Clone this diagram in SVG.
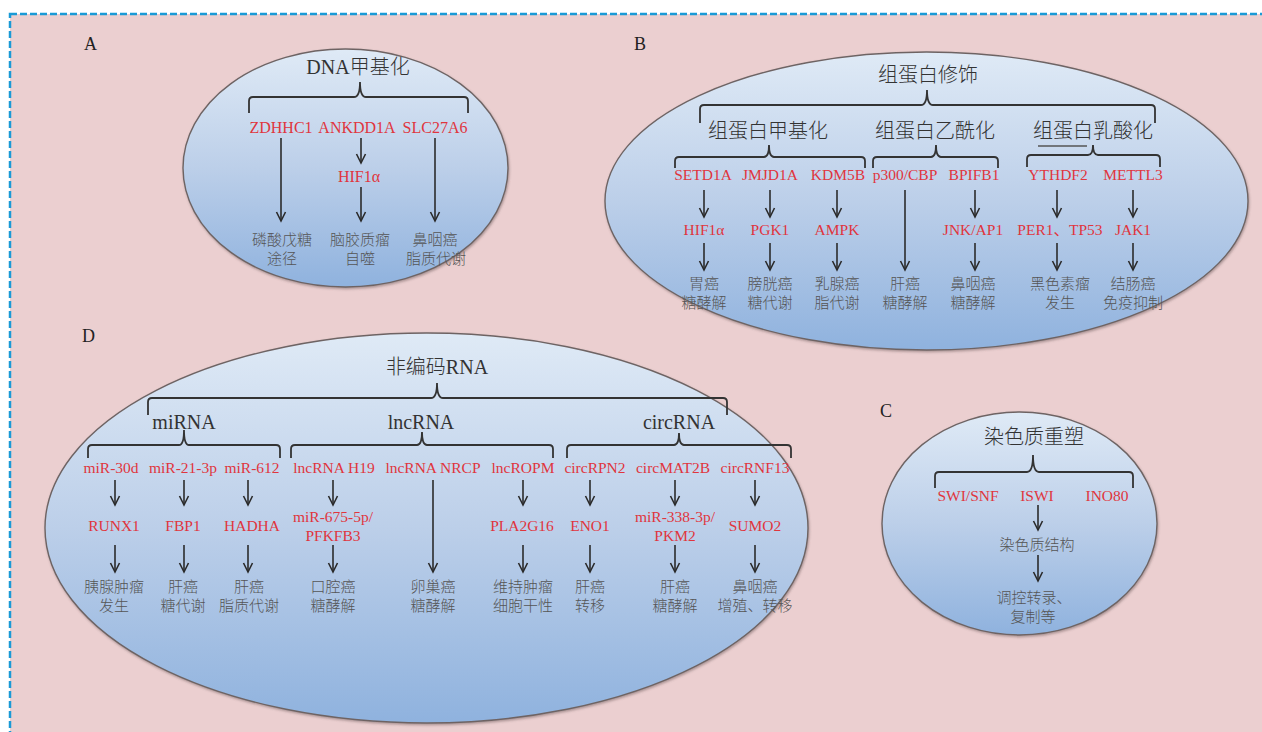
<svg xmlns="http://www.w3.org/2000/svg" width="1262" height="732" viewBox="0 0 1262 732">
<defs>
<linearGradient id="eg" x1="0" y1="0" x2="0" y2="1">
<stop offset="0" stop-color="#dfeaf6"/>
<stop offset="0.5" stop-color="#bccfe9"/>
<stop offset="1" stop-color="#8fb2de"/>
</linearGradient>
<filter id="sh" x="-5%" y="-5%" width="110%" height="115%">
<feDropShadow dx="0.8" dy="1.5" stdDeviation="1.2" flood-color="#5a4a4a" flood-opacity="0.45"/>
</filter>
<marker id="ah" viewBox="-11 -6 13 12" markerWidth="13" markerHeight="12" refX="0" refY="0" orient="auto" markerUnits="userSpaceOnUse">
<path d="M-9,-4.5 L0,0 L-9,4.5" fill="none" stroke="#2b2b2b" stroke-width="1.6"/>
</marker>
<style>
.bg{fill:#ebcfd0}
.frame{fill:none;stroke:#1a9ad6;stroke-width:2.5;stroke-dasharray:7 3}
.ell{fill:url(#eg);stroke:#6e6464;stroke-width:1.4;filter:url(#sh)}
.lab{font-family:"Liberation Serif","Noto Sans CJK SC",serif;font-size:18px;fill:#222}
.ttl{font-family:"Liberation Serif","Noto Sans CJK SC",serif;font-size:20px;font-weight:300;fill:#333;text-anchor:middle}
.red{font-family:"Liberation Serif","Noto Sans CJK SC",serif;font-size:15.5px;fill:#e0353d;text-anchor:middle}
.ra{font-size:16px}
.gry{font-family:"Noto Sans CJK SC",sans-serif;font-size:15px;font-weight:300;fill:#555;text-anchor:middle}
.arr{stroke:#2b2b2b;stroke-width:1.6;fill:none;marker-end:url(#ah)}
.brc{stroke:#333;stroke-width:1.8;fill:none}
</style>
</defs>
<rect x="0" y="0" width="1262" height="732" fill="#ffffff"/>
<rect class="bg" x="10" y="14" width="1262" height="730"/>
<rect class="frame" x="10" y="14" width="1262" height="730"/>

<g id="panel-A">
<ellipse class="ell" cx="345.5" cy="168" rx="162.5" ry="119"/>
<text class="lab" x="84" y="50">A</text>
<g id="a-title"><text class="ttl" x="358" y="74">DNA甲基化</text></g>
<g id="a-zdhhc1"><text class="red ra" x="281" y="133">ZDHHC1</text></g>
<g id="a-ankdd1a"><text class="red ra" x="357" y="133">ANKDD1A</text></g>
<g id="a-slc27a6"><text class="red ra" x="435" y="133">SLC27A6</text></g>
<g id="a-hif1a"><text class="red ra" x="359" y="182">HIF1α</text></g>
<g id="a-out1"><text class="gry" x="282" y="245">磷酸戊糖</text><text class="gry" x="282" y="264">途径</text></g>
<g id="a-out2"><text class="gry" x="360" y="245">脑胶质瘤</text><text class="gry" x="360" y="264">自噬</text></g>
<g id="a-out3"><text class="gry" x="435" y="245">鼻咽癌</text><text class="gry" x="436" y="264">脂质代谢</text></g>
</g>

<g id="panel-B">
<ellipse class="ell" cx="926.5" cy="201" rx="321.5" ry="149"/>
<text class="lab" x="634" y="50">B</text>
<g id="b-title"><text class="ttl" x="928" y="82">组蛋白修饰</text></g>
<g id="b-sub1"><text class="ttl" x="768" y="138">组蛋白甲基化</text></g>
<g id="b-sub2"><text class="ttl" x="935" y="138">组蛋白乙酰化</text></g>
<g id="b-sub3"><text class="ttl" x="1093" y="138">组蛋白乳酸化</text><line x1="1038" y1="146" x2="1087" y2="146" stroke="#555" stroke-width="1.5"/></g>
<g id="b-setd1a"><text class="red" x="703" y="180">SETD1A</text></g>
<g id="b-jmjd1a"><text class="red" x="770" y="180">JMJD1A</text></g>
<g id="b-kdm5b"><text class="red" x="838" y="180">KDM5B</text></g>
<g id="b-p300"><text class="red" x="905" y="180">p300/CBP</text></g>
<g id="b-bpifb1"><text class="red" x="974" y="180">BPIFB1</text></g>
<g id="b-ythdf2"><text class="red" x="1058" y="180">YTHDF2</text></g>
<g id="b-mettl3"><text class="red" x="1133" y="180">METTL3</text></g>
<g id="b-hif1a"><text class="red" x="704" y="235">HIF1α</text></g>
<g id="b-pgk1"><text class="red" x="770" y="235">PGK1</text></g>
<g id="b-ampk"><text class="red" x="837" y="235">AMPK</text></g>
<g id="b-jnk"><text class="red" x="973" y="235">JNK/AP1</text></g>
<g id="b-per1"><text class="red" x="1060" y="235">PER1、TP53</text></g>
<g id="b-jak1"><text class="red" x="1133" y="235">JAK1</text></g>
<g id="b-out1"><text class="gry" x="704" y="289">胃癌</text><text class="gry" x="704" y="308">糖酵解</text></g>
<g id="b-out2"><text class="gry" x="770" y="289">膀胱癌</text><text class="gry" x="770" y="308">糖代谢</text></g>
<g id="b-out3"><text class="gry" x="837" y="289">乳腺癌</text><text class="gry" x="837" y="308">脂代谢</text></g>
<g id="b-out4"><text class="gry" x="905" y="289">肝癌</text><text class="gry" x="905" y="308">糖酵解</text></g>
<g id="b-out5"><text class="gry" x="973" y="289">鼻咽癌</text><text class="gry" x="973" y="308">糖酵解</text></g>
<g id="b-out6"><text class="gry" x="1060" y="289">黑色素瘤</text><text class="gry" x="1060" y="308">发生</text></g>
<g id="b-out7"><text class="gry" x="1133" y="289">结肠癌</text><text class="gry" x="1133" y="308">免疫抑制</text></g>
</g>

<g id="panel-D">
<ellipse class="ell" cx="426.5" cy="528" rx="381.5" ry="195"/>
<text class="lab" x="82" y="342">D</text>
<g id="d-title"><text class="ttl" x="437" y="374">非编码RNA</text></g>
<g id="d-mirna"><text class="ttl" x="184" y="429">miRNA</text></g>
<g id="d-lncrna"><text class="ttl" x="421" y="429">lncRNA</text></g>
<g id="d-circrna"><text class="ttl" x="679" y="429">circRNA</text></g>
<g id="d-mir30d"><text class="red" x="111" y="473">miR-30d</text></g>
<g id="d-mir21"><text class="red" x="183" y="473">miR-21-3p</text></g>
<g id="d-mir612"><text class="red" x="252" y="473">miR-612</text></g>
<g id="d-h19"><text class="red" x="334" y="473">lncRNA H19</text></g>
<g id="d-nrcp"><text class="red" x="433" y="473">lncRNA NRCP</text></g>
<g id="d-lncropm"><text class="red" x="523" y="473">lncROPM</text></g>
<g id="d-circrpn2"><text class="red" x="595" y="473">circRPN2</text></g>
<g id="d-circmat2b"><text class="red" x="673" y="473">circMAT2B</text></g>
<g id="d-circrnf13"><text class="red" x="755" y="473">circRNF13</text></g>
<g id="d-runx1"><text class="red" x="114" y="531">RUNX1</text></g>
<g id="d-fbp1"><text class="red" x="183" y="531">FBP1</text></g>
<g id="d-hadha"><text class="red" x="252" y="531">HADHA</text></g>
<g id="d-mir675"><text class="red" x="333" y="522">miR-675-5p/</text><text class="red" x="333" y="541">PFKFB3</text></g>
<g id="d-pla2g16"><text class="red" x="522" y="531">PLA2G16</text></g>
<g id="d-eno1"><text class="red" x="590" y="531">ENO1</text></g>
<g id="d-mir338"><text class="red" x="675" y="522">miR-338-3p/</text><text class="red" x="675" y="541">PKM2</text></g>
<g id="d-sumo2"><text class="red" x="755" y="531">SUMO2</text></g>
<g id="d-out1"><text class="gry" x="114" y="592">胰腺肿瘤</text><text class="gry" x="114" y="611">发生</text></g>
<g id="d-out2"><text class="gry" x="183" y="592">肝癌</text><text class="gry" x="183" y="611">糖代谢</text></g>
<g id="d-out3"><text class="gry" x="249" y="592">肝癌</text><text class="gry" x="249" y="611">脂质代谢</text></g>
<g id="d-out4"><text class="gry" x="333" y="592">口腔癌</text><text class="gry" x="333" y="611">糖酵解</text></g>
<g id="d-out5"><text class="gry" x="433" y="592">卵巢癌</text><text class="gry" x="433" y="611">糖酵解</text></g>
<g id="d-out6"><text class="gry" x="523" y="592">维持肿瘤</text><text class="gry" x="523" y="611">细胞干性</text></g>
<g id="d-out7"><text class="gry" x="590" y="592">肝癌</text><text class="gry" x="590" y="611">转移</text></g>
<g id="d-out8"><text class="gry" x="675" y="592">肝癌</text><text class="gry" x="675" y="611">糖酵解</text></g>
<g id="d-out9"><text class="gry" x="755" y="592">鼻咽癌</text><text class="gry" x="755" y="611">增殖、转移</text></g>
</g>

<g id="panel-C">
<ellipse class="ell" cx="1019.5" cy="523.5" rx="137.5" ry="111.5"/>
<text class="lab" x="880" y="417">C</text>
<g id="c-title"><text class="ttl" x="1034" y="444">染色质重塑</text></g>
<g id="c-swisnf"><text class="red" x="968" y="501">SWI/SNF</text></g>
<g id="c-iswi"><text class="red" x="1037" y="501">ISWI</text></g>
<g id="c-ino80"><text class="red" x="1107" y="501">INO80</text></g>
<g id="c-struct"><text class="gry" x="1037" y="550">染色质结构</text></g>
<g id="c-out"><text class="gry" x="1034" y="603">调控转录、</text><text class="gry" x="1033" y="622">复制等</text></g>
</g>

<g id="connectors">
<path class="brc" d="M249,113 L249,101 Q249,97 253,97 L354,97 Q360,97 360,82 Q360,97 366,97 L464,97 Q468,97 468,101 L468,113"/>
<path class="brc" d="M700,123 L700,109 Q700,105 704,105 L921,105 Q927,105 927,90 Q927,105 933,105 L1151,105 Q1155,105 1155,109 L1155,123"/>
<path class="brc" d="M675,168 L675,161 Q675,157 679,157 L764,157 Q769,157 769,145 Q769,157 774,157 L861,157 Q865,157 865,161 L865,168"/>
<path class="brc" d="M873,168 L873,161 Q873,157 877,157 L931,157 Q936,157 936,145 Q936,157 941,157 L994,157 Q998,157 998,161 L998,168"/>
<path class="brc" d="M1027,167 L1027,159 Q1027,155 1031,155 L1088,155 Q1093,155 1093,145 Q1093,155 1098,155 L1156,155 Q1160,155 1160,159 L1160,167"/>
<path class="brc" d="M148,415 L148,402 Q148,398 152,398 L431,398 Q437,398 437,383 Q437,398 443,398 L723,398 Q727,398 727,402 L727,415"/>
<path class="brc" d="M88,458 L88,449 Q88,445 92,445 L179,445 Q184,445 184,430 Q184,445 189,445 L276,445 Q280,445 280,449 L280,458"/>
<path class="brc" d="M291,458 L291,449 Q291,445 295,445 L417,445 Q422,445 422,432 Q422,445 427,445 L549,445 Q553,445 553,449 L553,458"/>
<path class="brc" d="M567,458 L567,449 Q567,445 571,445 L674,445 Q679,445 679,433 Q679,445 684,445 L787,445 Q791,445 791,449 L791,458"/>
<path class="brc" d="M935,488 L935,476 Q935,472 939,472 L1027,472 Q1033,472 1033,455 Q1033,472 1039,472 L1129,472 Q1133,472 1133,476 L1133,488"/>
<line class="arr" x1="281" y1="138" x2="281" y2="221"/>
<line class="arr" x1="361" y1="138" x2="361" y2="163"/>
<line class="arr" x1="361" y1="187" x2="361" y2="221"/>
<line class="arr" x1="435" y1="138" x2="435" y2="221"/>
<line class="arr" x1="704" y1="190" x2="704" y2="217"/>
<line class="arr" x1="770" y1="190" x2="770" y2="217"/>
<line class="arr" x1="837" y1="190" x2="837" y2="217"/>
<line class="arr" x1="905" y1="190" x2="905" y2="270"/>
<line class="arr" x1="975" y1="190" x2="975" y2="217"/>
<line class="arr" x1="1057" y1="190" x2="1057" y2="217"/>
<line class="arr" x1="1133" y1="190" x2="1133" y2="217"/>
<line class="arr" x1="704" y1="243" x2="704" y2="270"/>
<line class="arr" x1="770" y1="243" x2="770" y2="270"/>
<line class="arr" x1="837" y1="243" x2="837" y2="270"/>
<line class="arr" x1="975" y1="243" x2="975" y2="270"/>
<line class="arr" x1="1057" y1="243" x2="1057" y2="270"/>
<line class="arr" x1="1133" y1="243" x2="1133" y2="270"/>
<line class="arr" x1="115" y1="480" x2="115" y2="505"/>
<line class="arr" x1="184" y1="480" x2="184" y2="505"/>
<line class="arr" x1="248" y1="480" x2="248" y2="505"/>
<line class="arr" x1="333" y1="480" x2="333" y2="505"/>
<line class="arr" x1="433" y1="480" x2="433" y2="572"/>
<line class="arr" x1="523" y1="480" x2="523" y2="505"/>
<line class="arr" x1="590" y1="480" x2="590" y2="505"/>
<line class="arr" x1="675" y1="480" x2="675" y2="505"/>
<line class="arr" x1="755" y1="480" x2="755" y2="505"/>
<line class="arr" x1="115" y1="545" x2="115" y2="572"/>
<line class="arr" x1="184" y1="545" x2="184" y2="572"/>
<line class="arr" x1="248" y1="545" x2="248" y2="572"/>
<line class="arr" x1="333" y1="545" x2="333" y2="572"/>
<line class="arr" x1="523" y1="545" x2="523" y2="572"/>
<line class="arr" x1="590" y1="545" x2="590" y2="572"/>
<line class="arr" x1="675" y1="545" x2="675" y2="572"/>
<line class="arr" x1="755" y1="545" x2="755" y2="572"/>
<line class="arr" x1="1038" y1="505" x2="1038" y2="530"/>
<line class="arr" x1="1038" y1="555" x2="1038" y2="581"/>
</g>
</svg>
